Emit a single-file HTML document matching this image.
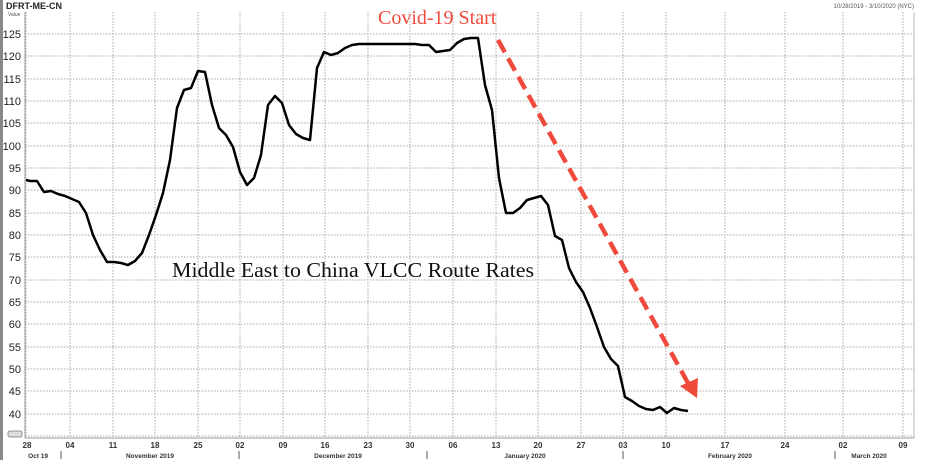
<!DOCTYPE html>
<html><head><meta charset="utf-8"><style>
body{margin:0;background:#fff;}
svg{display:block;font-family:"Liberation Sans",sans-serif;}
</style></head><body>
<svg width="925" height="460" xmlns="http://www.w3.org/2000/svg">
<rect x="0" y="0" width="925" height="460" fill="#fff"/>
<rect x="0" y="0" width="3" height="460" fill="#888"/>
<text x="6" y="9" font-size="9" font-weight="bold" fill="#222">DFRT-ME-CN</text>
<text x="914" y="8" font-size="6" fill="#555" text-anchor="end">10/28/2019 - 3/10/2020 (NYC)</text>
<text x="8" y="16" font-size="5" fill="#555">Value</text>
<g stroke="#aaa" stroke-width="1" stroke-dasharray="1.5,1.5">
<line x1="25" x2="914" y1="34" y2="34"/><line x1="25" x2="914" y1="56" y2="56"/><line x1="25" x2="914" y1="79" y2="79"/><line x1="25" x2="914" y1="101" y2="101"/><line x1="25" x2="914" y1="123" y2="123"/><line x1="25" x2="914" y1="146" y2="146"/><line x1="25" x2="914" y1="168" y2="168"/><line x1="25" x2="914" y1="190" y2="190"/><line x1="25" x2="914" y1="213" y2="213"/><line x1="25" x2="914" y1="235" y2="235"/><line x1="25" x2="914" y1="257" y2="257"/><line x1="25" x2="914" y1="280" y2="280"/><line x1="25" x2="914" y1="302" y2="302"/><line x1="25" x2="914" y1="324" y2="324"/><line x1="25" x2="914" y1="347" y2="347"/><line x1="25" x2="914" y1="369" y2="369"/><line x1="25" x2="914" y1="391" y2="391"/><line x1="25" x2="914" y1="414" y2="414"/><line x1="25" x2="914" y1="436" y2="436"/>
<line y1="12" y2="437" x1="26" x2="26"/><line y1="12" y2="437" x1="70" x2="70"/><line y1="12" y2="437" x1="113" x2="113"/><line y1="12" y2="437" x1="155" x2="155"/><line y1="12" y2="437" x1="198" x2="198"/><line y1="12" y2="437" x1="240" x2="240"/><line y1="12" y2="437" x1="283" x2="283"/><line y1="12" y2="437" x1="325" x2="325"/><line y1="12" y2="437" x1="368" x2="368"/><line y1="12" y2="437" x1="410" x2="410"/><line y1="12" y2="437" x1="453" x2="453"/><line y1="12" y2="437" x1="496" x2="496"/><line y1="12" y2="437" x1="538" x2="538"/><line y1="12" y2="437" x1="581" x2="581"/><line y1="12" y2="437" x1="623" x2="623"/><line y1="12" y2="437" x1="666" x2="666"/><line y1="12" y2="437" x1="725" x2="725"/><line y1="12" y2="437" x1="785" x2="785"/><line y1="12" y2="437" x1="843" x2="843"/><line y1="12" y2="437" x1="903" x2="903"/>
</g>
<line x1="25" y1="12" x2="25" y2="438" stroke="#999"/>
<line x1="914" y1="12" x2="914" y2="438" stroke="#bbb"/>
<line x1="25" y1="438" x2="914" y2="438" stroke="#999"/>
<g font-size="11" fill="#222" text-anchor="end">
<text x="21" y="38">125</text><text x="21" y="60">120</text><text x="21" y="83">115</text><text x="21" y="105">110</text><text x="21" y="127">105</text><text x="21" y="150">100</text><text x="21" y="172">95</text><text x="21" y="194">90</text><text x="21" y="217">85</text><text x="21" y="239">80</text><text x="21" y="261">75</text><text x="21" y="284">70</text><text x="21" y="306">65</text><text x="21" y="328">60</text><text x="21" y="351">55</text><text x="21" y="373">50</text><text x="21" y="395">45</text><text x="21" y="418">40</text>
</g>
<rect x="8" y="431" width="14" height="6" rx="2" fill="#ddd" stroke="#777" stroke-width="0.8"/>
<g font-size="8" font-weight="bold" fill="#333" text-anchor="middle">
<text x="27" y="448">28</text><text x="70" y="448">04</text><text x="113" y="448">11</text><text x="155" y="448">18</text><text x="198" y="448">25</text><text x="240" y="448">02</text><text x="283" y="448">09</text><text x="325" y="448">16</text><text x="368" y="448">23</text><text x="410" y="448">30</text><text x="453" y="448">06</text><text x="496" y="448">13</text><text x="538" y="448">20</text><text x="581" y="448">27</text><text x="623" y="448">03</text><text x="666" y="448">10</text><text x="725" y="448">17</text><text x="785" y="448">24</text><text x="843" y="448">02</text><text x="903" y="448">09</text>
</g>
<g font-size="6.5" font-weight="bold" fill="#333" text-anchor="middle">
<text x="38" y="458">Oct 19</text><text x="150" y="458">November 2019</text><text x="338" y="458">December 2019</text><text x="525" y="458">January 2020</text><text x="730" y="458">February 2020</text><text x="869" y="458">March 2020</text>
</g>
<g stroke="#555"><line x1="61" y1="451" x2="61" y2="459"/><line x1="239" y1="451" x2="239" y2="459"/><line x1="427" y1="451" x2="427" y2="459"/><line x1="623" y1="451" x2="623" y2="459"/><line x1="835" y1="451" x2="835" y2="459"/></g>
<polyline fill="none" stroke="#000" stroke-width="2.5" stroke-linejoin="round" points="26,180 30,181 37,181 44,192 51,191 58,194 65,196 72,199 79,202 86,213 93,235 100,250 107,262 114,262 121,263 128,265 135,261 142,253 149,235 156,215 163,193 170,160 177,108 184,90 191,88 198,71 205,72 212,105 219,128 226,135 233,147 240,172 247,185 254,178 261,155 268,105 275,96 282,103 289,125 296,134 303,138 310,140 317,68 324,52 331,55 338,53 345,48 352,45 359,44 366,44 373,44 380,44 387,44 394,44 401,44 408,44 415,44 422,45 429,45 436,52 443,51 450,50 457,43 464,39 471,38 478,38 485,85 492,110 499,178 506,213 513,213 520,208 527,200 534,198 541,196 548,205 555,236 562,240 569,268 576,282 583,292 590,308 597,327 604,347 611,359 618,366 625,397 632,401 639,406 646,409 653,410 660,407 667,413 674,408 681,410 688,411"/>
<line x1="498" y1="40" x2="688" y2="383" stroke="#f04a3c" stroke-width="4.5" stroke-dasharray="14,7"/>
<polygon points="697,398 680,386 698,378" fill="#f04a3c"/>
<text x="378" y="24" font-family="Liberation Serif,serif" font-size="20" fill="#f04a3c">Covid-19 Start</text>
<text x="172" y="277" font-family="Liberation Serif,serif" font-size="21" fill="#111" textLength="362" lengthAdjust="spacingAndGlyphs">Middle East to China VLCC Route Rates</text>
</svg>
</body></html>
